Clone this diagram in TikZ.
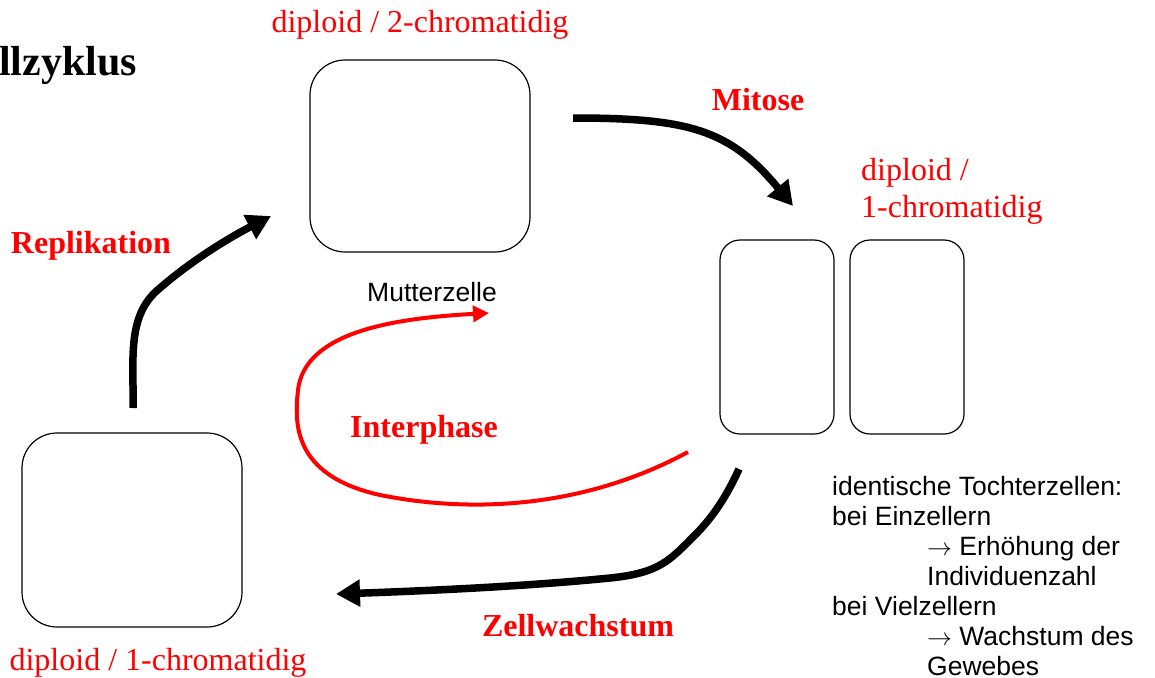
\documentclass[tikz,border=0pt]{standalone}
\usepackage{fontspec}
\setmainfont{Liberation Serif}
\setsansfont{Liberation Sans}
\usetikzlibrary{arrows.meta}
\tikzset{
  cell/.style={draw, line width=1.2pt, rounded corners=#1},
  redlbl/.style={text=red, font=\fontsize{32}{36}\selectfont, inner sep=0pt},
  redbold/.style={text=red, font=\fontsize{32}{36}\selectfont\bfseries, inner sep=0pt},
  sanslbl/.style={font=\sffamily\fontsize{26.5}{30}\selectfont, inner sep=0pt},
  blackarrow/.style={line width=7.5pt, -{Triangle[length=24pt,width=26pt]}},
  redarrow/.style={draw=red, line width=4pt, -{Triangle[length=16pt,width=16pt]}, red}
}
\newcommand{\rarr}{{\fontsize{31}{30}\selectfont$\rightarrow$}}
\begin{document}
\begin{tikzpicture}[x=1pt,y=-1pt]
\useasboundingbox (0,0) rectangle (1155,677);
% title
\node[font=\fontsize{42}{46}\selectfont\bfseries, anchor=base east, inner sep=0pt] (title) at (137,75) {Zellzyklus};
% cells
\draw[cell=35pt] (310,60) rectangle (530,252);
\draw[cell=20pt] (720,240) rectangle (834,434);
\draw[cell=20pt] (850,240) rectangle (964,434);
\draw[cell=35pt] (22,433) rectangle (242,627);
% labels
\node[redlbl] (l1) at (420,25) {diploid / 2-chromatidig};
\node[redbold] (mit) at (758,100) {Mitose};
\node[redlbl, anchor=west] (l2a) at (861,173) {diploid /};
\node[redlbl, anchor=west] (l2b) at (861,210) {1-chromatidig};
\node[redbold] (rep) at (91,246) {Replikation};
\node[sanslbl] (mz) at (432,292) {Mutterzelle};
\node[redbold] (inter) at (424,430) {Interphase};
\node[redbold] (zw) at (578,626) {Zellwachstum};
\node[redlbl] (l3) at (158,663) {diploid / 1-chromatidig};
\node[sanslbl, anchor=north west, align=left] (txt) at (832,476) {%
identische Tochterzellen:\\
bei Einzellern\\
\hspace{95pt}\rarr\ Erhöhung der\\
\hspace{95pt}Individuenzahl\\
bei Vielzellern\\
\hspace{95pt}\rarr\ Wachstum des\\
\hspace{95pt}Gewebes};
% arrow coordinates
\coordinate (m0) at (573,118);
\coordinate (m1) at (793,206);
\coordinate (r0) at (133,408);
\coordinate (r1) at (271,216);
\coordinate (i0) at (688,452);
\coordinate (i1) at (489,313);
\coordinate (z0) at (739,469);
\coordinate (z1) at (336,594);
% arrows
\draw[blackarrow] (m0) .. controls (690,118) and (730,130) .. (m1);
\draw[blackarrow] (r0) .. controls (134,360) and (126,315) .. (160,288)
  .. controls (190,262) and (225,240) .. (r1);
\draw[redarrow] (i0) .. controls (590,505) and (480,515) .. (380,495)
  .. controls (290,475) and (295,420) .. (298,390)
  .. controls (305,330) and (400,318) .. (i1);
\draw[blackarrow] (z0) .. controls (725,500) and (710,520) .. (695,535)
  .. controls (670,560) and (660,573) .. (610,578)
  .. controls (540,585) and (450,590) .. (z1);
\end{tikzpicture}
\end{document}
